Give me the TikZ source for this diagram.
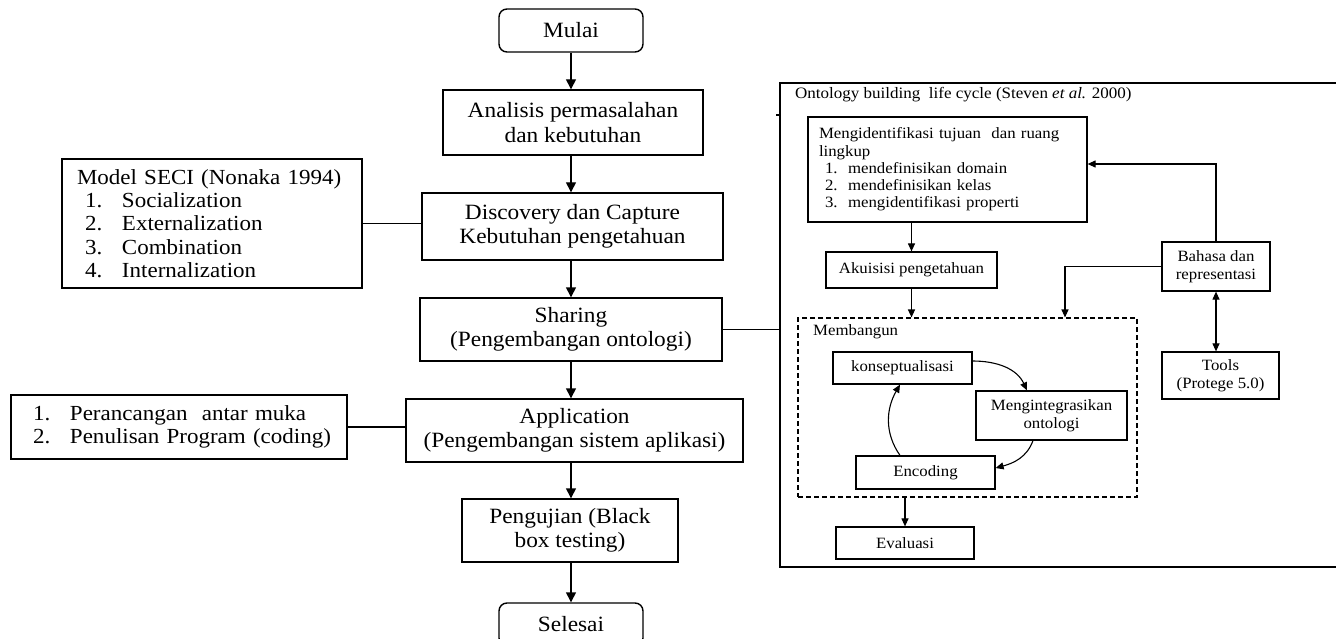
\documentclass[tikz,border=0pt]{standalone}
\usepackage{fontspec}
\setmainfont{Liberation Serif}[FakeStretch=1.07]
\usetikzlibrary{arrows.meta,calc}
\begin{document}
\begin{tikzpicture}[x=1pt,y=1pt,
  mainbox/.style={draw,line width=1.4pt,inner sep=0pt,align=center,font=\fontsize{21.8}{24.5}\selectfont},
  termbox/.style={mainbox,rounded corners=8pt},
  smallbox/.style={draw,line width=1.2pt,inner sep=0pt,align=center,font=\fontsize{15.7}{18.5}\selectfont},
  arr/.style={-{Triangle[width=10pt,length=10pt]},line width=1.4pt},
  sarr/.style={-{Triangle[width=7pt,length=8pt]},line width=1.1pt},
  darr/.style={{Triangle[width=7pt,length=8pt]}-{Triangle[width=7pt,length=8pt]},line width=1.1pt},
  link/.style={line width=1.4pt},
  slink/.style={line width=1.1pt},
]
\useasboundingbox (0,0) rectangle (1336,-639);

% main flow
\node[termbox,minimum width=144pt,minimum height=43pt] (mulai) at (571,-30.5) {Mulai};
\node[mainbox,minimum width=260pt,minimum height=65pt] (analisis) at (573,-122.5) {Analisis permasalahan\\dan kebutuhan};
\node[mainbox,minimum width=301pt,minimum height=67pt] (discovery) at (572.5,-226.5) {Discovery dan Capture\\Kebutuhan pengetahuan};
\node[mainbox,minimum width=302pt,minimum height=63pt] (sharing) at (571,-329.5) {Sharing\\(Pengembangan ontologi)};
\node[mainbox,minimum width=337pt,minimum height=63pt] (application) at (574.5,-430.5) {Application\\(Pengembangan sistem aplikasi)};
\node[mainbox,minimum width=216pt,minimum height=63pt] (pengujian) at (570,-530.5) {Pengujian (Black\\box testing)};
\node[termbox,minimum width=144pt,minimum height=43pt] (selesai) at (571,-624.5) {Selesai};

\draw[arr] (mulai.south) -- (mulai.south |- analisis.north);
\draw[arr] (mulai.south |- analisis.south) -- (mulai.south |- discovery.north);
\draw[arr] (mulai.south |- discovery.south) -- (mulai.south |- sharing.north);
\draw[arr] (mulai.south |- sharing.south) -- (mulai.south |- application.north);
\draw[arr] (mulai.south |- application.south) -- (mulai.south |- pengujian.north);
\draw[arr] (mulai.south |- pengujian.south) -- (selesai.north);

% left boxes
\node[draw,line width=1.4pt,inner xsep=15pt,inner ysep=0pt,minimum width=300pt,minimum height=129pt,text width=270pt,align=left,font=\fontsize{21.5}{23.2}\selectfont] (seci) at (212,-223.5)
  {Model SECI (Nonaka 1994)\\
   \hspace*{8pt}\makebox[37pt][l]{1.}Socialization\\
   \hspace*{8pt}\makebox[37pt][l]{2.}Externalization\\
   \hspace*{8pt}\makebox[37pt][l]{3.}Combination\\
   \hspace*{8pt}\makebox[37pt][l]{4.}Internalization};
\draw[link] (seci.east) -- (seci.east -| discovery.west);

\node[draw,line width=1.4pt,inner xsep=11pt,inner ysep=0pt,minimum width=336pt,minimum height=64pt,text width=314pt,align=left,font=\fontsize{21.5}{23.2}\selectfont] (list) at (179,-427)
  {\hspace*{11pt}\makebox[37pt][l]{1.}Perancangan\ \ antar muka\\
   \hspace*{11pt}\makebox[37pt][l]{2.}Penulisan Program (coding)};
\draw[link] (list.east) -- (list.east -| application.west);

% ontology frame
\node[draw,line width=1.4pt,inner sep=0pt,minimum width=558pt,minimum height=484pt] (onto) at (1059,-325) {};
\node[anchor=west,inner sep=0pt,font=\fontsize{15.9}{18}\selectfont] (ontotitle) at (795,-95) {Ontology building\ \ life cycle (Steven \textit{et al.} 2000)};
\coordinate (tk) at (776,-115);
\draw[slink] (tk) -- (tk -| onto.west);
\draw[link] (sharing.east) -- (sharing.east -| onto.west);

\node[draw,line width=1.2pt,inner xsep=11pt,inner ysep=0pt,minimum width=279pt,minimum height=105pt,text width=257pt,align=left,font=\fontsize{15.7}{17.2}\selectfont] (ident) at (947.5,-169.5)
  {Mengidentifikasi tujuan\ \ dan ruang\\
   lingkup\\
   \hspace*{6pt}\makebox[23pt][l]{1.}mendefinisikan domain\\
   \hspace*{6pt}\makebox[23pt][l]{2.}mendefinisikan kelas\\
   \hspace*{6pt}\makebox[23pt][l]{3.}mengidentifikasi properti};
\node[smallbox,minimum width=171pt,minimum height=36pt] (akuisisi) at (911.5,-270) {Akuisisi pengetahuan};
\node[smallbox,minimum width=108pt,minimum height=49pt] (bahasa) at (1216,-266.5) {Bahasa dan\\representasi};
\node[smallbox,minimum width=117pt,minimum height=47pt] (tools) at (1220.5,-375.5) {Tools\\(Protege 5.0)};

\node[draw,line width=1.1pt,dash pattern=on 5pt off 3pt,inner sep=0pt,minimum width=339pt,minimum height=179pt] (memb) at (967.5,-407.5) {};
\node[anchor=west,inner sep=0pt,font=\fontsize{15.7}{18}\selectfont] (membl) at (813,-332) {Membangun};
\node[smallbox,minimum width=139pt,minimum height=32pt] (konsep) at (902.5,-368) {konseptualisasi};
\node[smallbox,minimum width=151pt,minimum height=49pt] (integ) at (1051.5,-415.5) {Mengintegrasikan\\ontologi};
\node[smallbox,minimum width=139pt,minimum height=33pt] (encod) at (925.5,-472.5) {Encoding};
\node[smallbox,minimum width=138pt,minimum height=32pt] (evaluasi) at (905,-543) {Evaluasi};

\draw[sarr] (akuisisi.north |- ident.south) -- (akuisisi.north);
\draw[sarr] (akuisisi.south) -- (akuisisi.south |- memb.north);
\draw[sarr] (bahasa.north) |- ([yshift=5.5pt]ident.east);
\coordinate (bx) at (1065,0);
\draw[sarr] (bahasa.west) -| (memb.north -| bx);
\draw[darr] (bahasa.south) -- (bahasa.south |- tools.north);
\draw[sarr] (evaluasi.north |- memb.south) -- (evaluasi.north);

\draw[sarr] ([yshift=7pt]konsep.east) to[out=0,in=115] ([xshift=-24.5pt]integ.north);
\draw[sarr] ([xshift=-18.5pt]integ.south) to[out=-110,in=15] ([yshift=4.5pt]encod.east);
\draw[sarr] ([xshift=-25.5pt]encod.north) to[out=125,in=-120] ([xshift=-2.5pt]konsep.south);
\end{tikzpicture}
\end{document}
